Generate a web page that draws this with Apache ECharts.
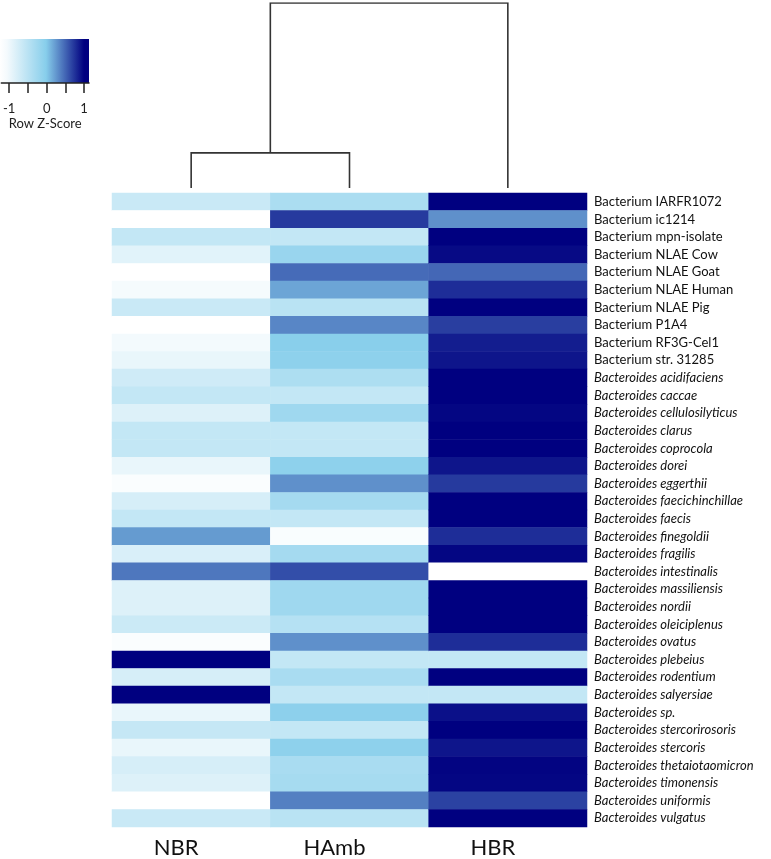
<!DOCTYPE html>
<html>
<head>
<meta charset="utf-8">
<script src="https://cdn.jsdelivr.net/npm/echarts@6/dist/echarts.min.js"></script>
<style>
html,body{margin:0;padding:0;background:#fff;}
#chart{width:771px;height:859px;}
</style>
</head>
<body>
<div id="chart"></div>
<script>
const samples = ['NBR', 'HAmb', 'HBR'];
const taxa = [
  'Bacterium IARFR1072', 'Bacterium ic1214', 'Bacterium mpn-isolate', 'Bacterium NLAE Cow',
  'Bacterium NLAE Goat', 'Bacterium NLAE Human', 'Bacterium NLAE Pig', 'Bacterium P1A4',
  'Bacterium RF3G-Cel1', 'Bacterium str. 31285', 'Bacteroides acidifaciens', 'Bacteroides caccae',
  'Bacteroides cellulosilyticus', 'Bacteroides clarus', 'Bacteroides coprocola', 'Bacteroides dorei',
  'Bacteroides eggerthii', 'Bacteroides faecichinchillae', 'Bacteroides faecis', 'Bacteroides finegoldii',
  'Bacteroides fragilis', 'Bacteroides intestinalis', 'Bacteroides massiliensis', 'Bacteroides nordii',
  'Bacteroides oleiciplenus', 'Bacteroides ovatus', 'Bacteroides plebeius', 'Bacteroides rodentium',
  'Bacteroides salyersiae', 'Bacteroides sp.', 'Bacteroides stercorirosoris', 'Bacteroides stercoris',
  'Bacteroides thetaiotaomicron', 'Bacteroides timonensis', 'Bacteroides uniformis', 'Bacteroides vulgatus'
];
const nbrZ = [-0.55,-1.0,-0.5,-0.75,-1.0,-0.92,-0.55,-1.0,-0.9,-0.82,-0.6,-0.5,-0.72,-0.5,-0.5,-0.82,-0.96,-0.66,-0.5,0.25,-0.68,0.42,-0.72,-0.72,-0.57,-0.96,1.0,-0.66,1.0,-0.82,-0.52,-0.82,-0.66,-0.72,-1.0,-0.55];
const hambZ = [-0.3,0.72,-0.5,-0.15,0.48,0.2,-0.42,0.35,-0.02,-0.06,-0.32,-0.5,-0.2,-0.5,-0.5,-0.06,0.3,-0.25,-0.5,-0.95,-0.25,0.62,-0.2,-0.2,-0.38,0.3,-0.5,-0.28,-0.5,-0.05,-0.5,-0.06,-0.28,-0.26,0.38,-0.42];
const hbrZ = [1,0.3,1,0.95,0.5,0.78,1,0.7,0.86,0.9,1,1,0.97,1,1,0.9,0.72,1,1,0.78,0.97,-1,1,1,1,0.78,-0.5,1,-0.5,0.92,1,0.9,0.98,0.97,0.68,1];
// dendrogram merges: [leftChild, rightChild, height]; leaves are sample indices, clusters are 'c0', 'c1'...
const merges = [
  [0, 1, 0.19],
  ['c0', 2, 1.0]
];
const legendTicks = [-1, -0.5, 0, 0.5, 1];
const legendLabels = [-1, 0, 1];

const FONT = 'Lato, "Open Sans", sans-serif';
const columns = [nbrZ, hambZ, hbrZ];
const heatData = [];
columns.forEach((col, ci) => col.forEach((v, ri) => heatData.push([ci, ri, v])));

// build dendrogram polylines from merges
const nodes = {};
samples.forEach((s, i) => { nodes[i] = { x: i + 0.5, h: 0 }; });
const dendroLines = [];
merges.forEach((m, k) => {
  const a = nodes[m[0]], b = nodes[m[1]], h = m[2];
  dendroLines.push({ coords: [[a.x, a.h], [a.x, h], [b.x, h], [b.x, b.h]] });
  nodes['c' + k] = { x: (a.x + b.x) / 2, h: h };
});

const chart = echarts.init(document.getElementById('chart'));
chart.setOption({
  backgroundColor: '#ffffff',
  animation: false,
  textStyle: { fontFamily: FONT },
  grid: [
    { left: 112, top: 193, width: 475, height: 634 },
    { left: 112, top: 3, width: 475, height: 185 },
    { left: 0, top: 39, width: 89, height: 44 }
  ],
  xAxis: [
    {
      gridIndex: 0, type: 'category', data: samples, position: 'bottom',
      axisLine: { show: false }, axisTick: { show: false },
      axisLabel: { fontSize: 22, color: '#111', margin: 10, fontFamily: FONT, padding: [0, 30, 0, 0] }
    },
    { gridIndex: 1, type: 'value', min: 0, max: samples.length, show: false },
    {
      gridIndex: 2, type: 'value', min: -1.21, max: 1.13, position: 'bottom',
      axisLine: { show: true, lineStyle: { color: '#222', width: 1.5 } },
      axisTick: { show: true, customValues: legendTicks, length: 10, lineStyle: { color: '#222', width: 1.5 } },
      axisLabel: { customValues: legendLabels, fontSize: 13, color: '#222', margin: 19, fontFamily: FONT },
      splitLine: { show: false },
      name: 'Row Z-Score', nameLocation: 'middle', nameGap: 34,
      nameTextStyle: { fontSize: 13, color: '#222', fontFamily: FONT }
    }
  ],
  yAxis: [
    {
      gridIndex: 0, type: 'category', data: taxa, inverse: true, position: 'right',
      axisLine: { show: false }, axisTick: { show: false },
      axisLabel: {
        margin: 7, fontSize: 13, color: '#111', fontFamily: FONT,
        formatter: v => v.indexOf('Bacteroides') === 0 ? '{i|' + v + '}' : '{n|' + v + '}',
        rich: {
          n: { fontSize: 13, color: '#111', fontFamily: FONT },
          i: { fontSize: 13, color: '#111', fontFamily: FONT, fontStyle: 'italic' }
        }
      }
    },
    { gridIndex: 1, type: 'value', min: 0, max: 1, show: false },
    { gridIndex: 2, type: 'value', min: 0, max: 1, show: false }
  ],
  visualMap: {
    show: false, type: 'continuous', min: -1, max: 1, seriesIndex: 0,
    inRange: { color: ['#ffffff', '#87ceeb', '#000080'] }
  },
  graphic: [
    {
      type: 'rect', left: 0, top: 39, z: 0,
      shape: { width: 89, height: 44 },
      style: {
        fill: {
          type: 'linear', x: 0, y: 0, x2: 1, y2: 0,
          colorStops: [
            { offset: 0, color: '#ffffff' },
            { offset: 0.08, color: '#f4fafd' },
            { offset: 0.517, color: '#87ceeb' },
            { offset: 0.944, color: '#000080' },
            { offset: 1, color: '#000080' }
          ]
        }
      }
    }
  ],
  series: [
    {
      type: 'heatmap', xAxisIndex: 0, yAxisIndex: 0, data: heatData,
      itemStyle: { borderWidth: 0 }, emphasis: { disabled: true }
    },
    {
      type: 'lines', coordinateSystem: 'cartesian2d', xAxisIndex: 1, yAxisIndex: 1,
      polyline: true, data: dendroLines, silent: true,
      lineStyle: { color: '#333', width: 1.6, opacity: 1 }
    },
    {
      type: 'scatter', xAxisIndex: 2, yAxisIndex: 2, data: [], silent: true
    }
  ]
});
</script>
</body>
</html>
